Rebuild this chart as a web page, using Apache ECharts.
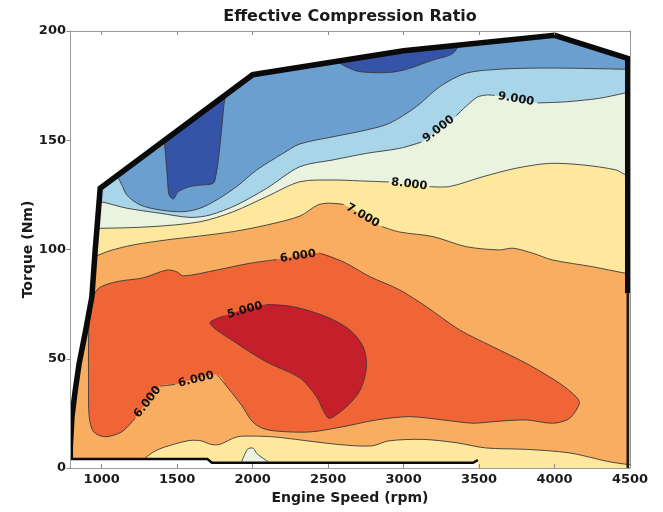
<!DOCTYPE html>
<html>
<head>
<meta charset="utf-8">
<script src="https://cdn.jsdelivr.net/npm/echarts@6/dist/echarts.min.js"></script>
<style>
  html, body { margin: 0; padding: 0; background: #fff; }
  #chart { width: 663px; height: 512px; }
</style>
</head>
<body>
<div id="chart"></div>
<script>
// ---- axes -------------------------------------------------------------
const speedMin = 790, speedMax = 4500;
const torqueMin = 0, torqueMax = 200;
const speedTicks = [1000, 1500, 2000, 2500, 3000, 3500, 4000, 4500];
const torqueTicks = [0, 50, 100, 150, 200];

// ---- contour lines of the effective compression ratio ------------------
// Each line is a pair of arrays (engine speed, torque). *Gap lists the
// segments that carry an inline level label (the stroke is broken there).

// ECR = 5 (closed loop around the minimum)
const ecr5Rpm = [1718, 1810, 2088, 2269, 2489, 2644, 2732, 2754, 2713, 2622, 2511, 2478, 2423, 2313, 2093, 1894];
const ecr5Nm  = [66.2, 69.6, 74.8, 73.8, 69.2, 63.2, 55.5, 46.4, 35.7, 28.1, 22.7, 25.0, 32.6, 41.2, 48.5, 57.1];
const ecr5Gap = [1];

// ECR = 6 (closed loop)
const ecr6Rpm = [925, 979, 1101, 1274, 1431, 1497, 1541, 1762, 1982, 2161, 2439, 2599, 2776, 2974, 3151, 3371, 3591, 3812, 4033, 4143, 4165, 4099, 3988, 3812, 3591, 3459, 3261, 3040, 2820, 2599, 2379, 2159, 2061, 1995, 1929, 1837, 1764, 1486, 1387, 1222, 1134, 1023, 946, 917, 913, 913, 918];
const ecr6Nm  = [75.5, 82.2, 85.3, 87.0, 90.6, 89.8, 87.9, 90.6, 93.7, 95.4, 98.4, 94.4, 87.6, 81.5, 73.8, 63.2, 55.5, 47.9, 38.8, 32.6, 29.6, 22.7, 20.5, 22.0, 21.2, 20.5, 22.0, 23.5, 22.0, 18.9, 16.5, 16.9, 18.3, 21.5, 28.5, 36.6, 42.8, 38.2, 37.5, 22.9, 16.6, 14.3, 16.6, 23.5, 38.8, 58.6, 70];
const ecr6Gap = [9, 36, 38];

// ECR = 7, upper branch (values rise above it)
const ecr7Rpm = [900, 957, 1056, 1210, 1431, 1652, 1872, 2093, 2313, 2432, 2511, 2604, 2855, 2974, 3195, 3415, 3635, 3724, 3856, 3988, 4253, 4474, 4562];
const ecr7Nm  = [97, 97.0, 99.5, 102.1, 104.4, 106.2, 108.2, 111.2, 115.3, 120.4, 121.2, 120.6, 110.5, 108.0, 105.9, 101.3, 99.8, 100.6, 98.3, 95.2, 92.1, 89.1, 88.3];
const ecr7Gap = [11];

// ECR = 7, low-load branch (values rise below it)
const ecr7LowRpm = [1265, 1278, 1360, 1475, 1585, 1660, 1724, 1782, 1894, 2005, 2145, 2284, 2564, 2788, 2900, 3123, 3347, 3542, 3821, 4101, 4353, 4496, 4562];
const ecr7LowNm  = [1, 3.8, 8.0, 10.8, 12.6, 12.4, 10.8, 10.8, 14.2, 14.6, 14.2, 13.1, 10.8, 10.1, 12.4, 13.1, 11.6, 9.2, 8.5, 6.9, 3.0, 1.5, 1.0];

// ECR = 8
const ecr8Rpm = [900, 979, 1321, 1652, 1872, 2093, 2313, 2533, 2710, 2903, 3172, 3304, 3525, 3746, 3966, 4187, 4408, 4474, 4562];
const ecr8Nm  = [110, 109.7, 110.4, 112.7, 117.3, 124.2, 131.0, 131.8, 131.4, 130.9, 128.8, 128.8, 133.3, 137.2, 139.4, 138.7, 136.4, 134.1, 133.2];
const ecr8Gap = [9];

// ECR = 8, small island at low load
const ecr8LowRpm = [1927, 1960, 1975, 2005, 2030, 2103];
const ecr8LowNm  = [2.9, 8.0, 9.0, 9.0, 6.5, 2.9];

// ECR = 9
const ecr9Rpm = [900, 990, 1167, 1387, 1585, 1718, 1894, 2093, 2313, 2533, 2754, 2974, 3120, 3345, 3482, 3548, 3603, 3887, 4077, 4297, 4462, 4562];
const ecr9Nm  = [122, 121.9, 118.9, 116.6, 114.7, 115.8, 120.4, 128.0, 137.9, 141.0, 144.0, 146.3, 149.2, 161.0, 169.5, 170.7, 170.5, 167.1, 167.6, 169.2, 171.5, 172.5];
const ecr9Gap = [12, 16];

// ECR = 10
const ecr10Rpm = [1023, 1101, 1134, 1167, 1255, 1387, 1541, 1652, 1762, 1894, 2027, 2202, 2313, 2533, 2754, 2908, 3085, 3239, 3415, 3635, 3856, 4077, 4474, 4562];
const ecr10Nm  = [136.4, 133.3, 129.5, 124.9, 120.4, 118.1, 117.3, 118.9, 122.7, 128.8, 136.4, 144.0, 148.3, 151.6, 154.7, 157.8, 165.4, 174.5, 180.7, 182.5, 183.0, 183.0, 182.5, 182.4];

// ECR = 11 islands near full load
const ecr11aRpm = [1395, 1830, 1808, 1790, 1773, 1757, 1739, 1660, 1585, 1508, 1475, 1450, 1442, 1431, 1420, 1410];
const ecr11aNm  = [158, 182, 165, 152, 141, 134, 130.3, 129.5, 128.8, 126.5, 123.1, 124.5, 126.5, 136.4, 145.5, 152];
const ecr11bRpm = [2520, 2566, 2640, 2710, 2864, 2960, 3040, 3195, 3327, 3370];
const ecr11bNm  = [192, 186, 183, 181.4, 180.9, 181.5, 182.9, 186.7, 189.8, 196];

// ---- operating envelope -------------------------------------------------
const fullLoadRpm = [792, 792, 803, 825, 851, 894, 935, 957, 990, 2000, 3000, 4000, 4485, 4485];
const fullLoadNm  = [4, 9.7, 23.5, 35.7, 48, 63, 78.4, 99.8, 128, 180, 191, 198, 187.5, 80];
const minLoadRpm = [792, 1700, 1730, 3460, 3492];
const minLoadNm  = [4.1, 4.1, 2.4, 2.4, 3.6];
const rightEdgeRpm = [4485, 4485];
const rightEdgeNm  = [80, 0];

// ---- styling -------------------------------------------------------------
const band = {
  lt5: '#c61f2c', b5_6: '#ef6535', b6_7: '#f8ad61', b7_8: '#fee89d',
  b8_9: '#e9f3df', b9_10: '#a9d5e8', b10_11: '#6b9fcf', gt11: '#3553a7'
};
const lineColor = '#3a3a3a';
const labelFont = 'bold 11.5px "DejaVu Sans"';
const SMOOTH = 0.3;

function renderContours(params, api) {
  const P = (r, n) => r.map((x, i) => api.coord([x, n[i]]));
  const hi = torqueMax + 40, lo = torqueMin - 10;
  const lEdge = speedMin - 120, rEdge = speedMax + 120;

  const above = (r, n) => P(r, n).concat([api.coord([r[r.length - 1], hi]), api.coord([r[0], hi])]);
  const below = (r, n) => P(r, n).concat([api.coord([r[r.length - 1], lo]), api.coord([r[0], lo])]);

  const fill = (points, color) => ({
    type: 'polygon', shape: { points, smooth: SMOOTH }, style: { fill: color, stroke: null }
  });
  const stroke = (points) => ({
    type: 'polyline', shape: { points, smooth: SMOOTH },
    style: { fill: null, stroke: lineColor, lineWidth: 0.9, lineJoin: 'round' }
  });

  // split a line into stroked pieces, leaving out the labelled segments
  function pieces(pts, gaps, closed) {
    const out = [];
    const g = gaps || [];
    if (!closed) {
      let start = 0;
      g.forEach(k => { out.push(pts.slice(start, k + 1)); start = k + 1; });
      out.push(pts.slice(start));
      return out;
    }
    if (!g.length) return [pts.concat([pts[0]])];
    for (let j = 0; j < g.length; j++) {
      const from = g[j] + 1, to = g[(j + 1) % g.length];
      const seg = [];
      let i = from;
      while (true) {
        seg.push(pts[i % pts.length]);
        if (i % pts.length === to) break;
        i++;
      }
      out.push(seg);
    }
    return out;
  }

  function label(pts, k, value) {
    const a = pts[k], b = pts[(k + 1) % pts.length];
    let ang = Math.atan2(b[1] - a[1], b[0] - a[0]);
    if (ang > Math.PI / 2) ang -= Math.PI;
    if (ang < -Math.PI / 2) ang += Math.PI;
    return {
      type: 'text', x: (a[0] + b[0]) / 2, y: (a[1] + b[1]) / 2, rotation: -ang,
      style: {
        text: value.toFixed(3), font: labelFont, fill: '#111',
        align: 'center', verticalAlign: 'middle', textAlign: 'center', textVerticalAlign: 'middle'
      }
    };
  }

  const children = [];

  // filled bands, painted from the outside in
  children.push(fill([api.coord([lEdge, lo]), api.coord([rEdge, lo]), api.coord([rEdge, hi]), api.coord([lEdge, hi])], band.b6_7));
  children.push(fill(above(ecr7Rpm, ecr7Nm), band.b7_8));
  children.push(fill(above(ecr8Rpm, ecr8Nm), band.b8_9));
  children.push(fill(above(ecr9Rpm, ecr9Nm), band.b9_10));
  children.push(fill(above(ecr10Rpm, ecr10Nm), band.b10_11));
  children.push(fill(P(ecr11aRpm, ecr11aNm), band.gt11));
  children.push(fill(P(ecr11bRpm, ecr11bNm), band.gt11));
  children.push(fill(below(ecr7LowRpm, ecr7LowNm), band.b7_8));
  children.push(fill(below(ecr8LowRpm, ecr8LowNm), band.b8_9));
  children.push(fill(P(ecr6Rpm, ecr6Nm), band.b5_6));
  children.push(fill(P(ecr5Rpm, ecr5Nm), band.lt5));

  // contour lines
  const p5 = P(ecr5Rpm, ecr5Nm), p6 = P(ecr6Rpm, ecr6Nm), p7 = P(ecr7Rpm, ecr7Nm);
  const p8 = P(ecr8Rpm, ecr8Nm), p9 = P(ecr9Rpm, ecr9Nm);
  pieces(p7, ecr7Gap, false).forEach(s => children.push(stroke(s)));
  pieces(p8, ecr8Gap, false).forEach(s => children.push(stroke(s)));
  pieces(p9, ecr9Gap, false).forEach(s => children.push(stroke(s)));
  children.push(stroke(P(ecr10Rpm, ecr10Nm)));
  children.push(stroke(P(ecr7LowRpm, ecr7LowNm)));
  children.push(stroke(P(ecr8LowRpm, ecr8LowNm)));
  children.push({ type: 'polygon', shape: { points: P(ecr11aRpm, ecr11aNm), smooth: SMOOTH }, style: { fill: null, stroke: lineColor, lineWidth: 0.9 } });
  children.push({ type: 'polygon', shape: { points: P(ecr11bRpm, ecr11bNm), smooth: SMOOTH }, style: { fill: null, stroke: lineColor, lineWidth: 0.9 } });
  pieces(p6, ecr6Gap, true).forEach(s => children.push(stroke(s)));
  pieces(p5, ecr5Gap, true).forEach(s => children.push(stroke(s)));

  // inline labels
  ecr5Gap.forEach(k => children.push(label(p5, k, 5)));
  ecr6Gap.forEach(k => children.push(label(p6, k, 6)));
  ecr7Gap.forEach(k => children.push(label(p7, k, 7)));
  ecr8Gap.forEach(k => children.push(label(p8, k, 8)));
  ecr9Gap.forEach(k => children.push(label(p9, k, 9)));

  // blank out everything outside the operating envelope
  const envTop = [api.coord([lEdge, fullLoadNm[0]])]
    .concat(P(fullLoadRpm.slice(0, -1), fullLoadNm.slice(0, -1)))
    .concat([api.coord([rEdge, fullLoadNm[fullLoadNm.length - 2]]), api.coord([rEdge, hi]), api.coord([lEdge, hi])]);
  children.push({ type: 'polygon', shape: { points: envTop }, style: { fill: '#fff', stroke: null } });
  const envBottom = [api.coord([lEdge, minLoadNm[0]])]
    .concat(P(minLoadRpm, minLoadNm))
    .concat([api.coord([minLoadRpm[minLoadRpm.length - 1], lo]), api.coord([lEdge, lo])]);
  children.push({ type: 'polygon', shape: { points: envBottom }, style: { fill: '#fff', stroke: null } });

  // envelope outline
  children.push({ type: 'polyline', shape: { points: P(fullLoadRpm, fullLoadNm) },
    style: { fill: null, stroke: '#0a0a0a', lineWidth: 5.5, lineJoin: 'miter' } });
  children.push({ type: 'polyline', shape: { points: P(minLoadRpm, minLoadNm) },
    style: { fill: null, stroke: '#0a0a0a', lineWidth: 2.5, lineJoin: 'miter' } });
  children.push({ type: 'polyline', shape: { points: P(rightEdgeRpm, rightEdgeNm) },
    style: { fill: null, stroke: '#1a1a1a', lineWidth: 2.5 } });

  return { type: 'group', children };
}

const axisGrey = '#9a9a9a';
const tickText = { fontFamily: 'DejaVu Sans', fontSize: 13, fontWeight: 'bold', color: '#1a1a1a' };
const nameText = { fontFamily: 'DejaVu Sans', fontSize: 14, fontWeight: 'bold', color: '#1a1a1a' };
const plain = v => String(v);

const chart = echarts.init(document.getElementById('chart'), null, { renderer: 'canvas' });
chart.setOption({
  animation: false,
  backgroundColor: '#fff',
  title: {
    text: 'Effective Compression Ratio',
    left: 350, top: 9, padding: 0, textAlign: 'center',
    textStyle: { fontFamily: 'DejaVu Sans', fontSize: 16, fontWeight: 'bold', color: '#1a1a1a' }
  },
  grid: { left: 70, right: 33, top: 31, bottom: 44 },
  xAxis: [
    {
      type: 'value', min: speedMin, max: speedMax, position: 'bottom', z: 10,
      name: 'Engine Speed (rpm)', nameLocation: 'middle', nameGap: 22, nameTextStyle: nameText,
      axisLine: { show: true, onZero: false, lineStyle: { color: axisGrey, width: 1 } },
      axisTick: { show: true, inside: true, length: 4, customValues: speedTicks, lineStyle: { color: '#888' } },
      axisLabel: Object.assign({ customValues: speedTicks, margin: 5, formatter: plain }, tickText),
      splitLine: { show: false }
    },
    {
      type: 'value', min: speedMin, max: speedMax, position: 'top', z: 10,
      axisLine: { show: true, onZero: false, lineStyle: { color: axisGrey, width: 1 } },
      axisTick: { show: true, inside: true, length: 4, customValues: speedTicks, lineStyle: { color: '#888' } },
      axisLabel: { show: false },
      splitLine: { show: false }
    }
  ],
  yAxis: [
    {
      type: 'value', min: torqueMin, max: torqueMax, interval: 50, position: 'left', z: 10,
      name: 'Torque (Nm)', nameLocation: 'middle', nameGap: 35, nameMoveOverlap: false, nameTextStyle: nameText,
      axisLine: { show: true, onZero: false, lineStyle: { color: axisGrey, width: 1 } },
      axisTick: { show: true, inside: false, length: 3.5, customValues: torqueTicks, lineStyle: { color: '#888' } },
      axisLabel: Object.assign({ customValues: torqueTicks, margin: 4, formatter: plain }, tickText),
      splitLine: { show: false }
    },
    {
      type: 'value', min: torqueMin, max: torqueMax, interval: 50, position: 'right', z: 10,
      axisLine: { show: true, onZero: false, lineStyle: { color: axisGrey, width: 1 } },
      axisTick: { show: false }, axisLabel: { show: false }, splitLine: { show: false }
    }
  ],
  series: [{
    type: 'custom', xAxisIndex: 0, yAxisIndex: 0, clip: true, silent: true,
    data: [[speedMin, torqueMin]],
    renderItem: renderContours
  }]
});
</script>
</body>
</html>
